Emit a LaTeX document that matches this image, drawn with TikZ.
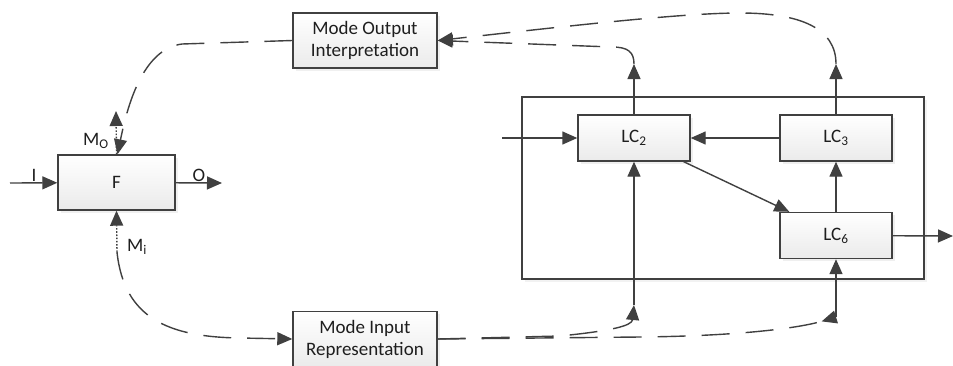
\documentclass[tikz,border=0pt]{standalone}
\usepackage{fontspec}
\setmainfont{Carlito}
\usetikzlibrary{arrows.meta,shadows}
\definecolor{cLine}{HTML}{404040}
\definecolor{cText}{HTML}{1E1E1E}

\begin{document}
\begin{tikzpicture}[
  x=1pt,y=-1pt,
  font=\fontsize{19}{22}\selectfont,
  blk/.style={draw=cLine,line width=1.4pt,top color=white,bottom color=gray!16,
              text=cText,align=center,minimum width=112pt,minimum height=46pt,
              drop shadow={opacity=0.12,shadow xshift=2.5pt,shadow yshift=-2.5pt}},
  frame/.style={draw=cLine,line width=1.4pt,fill=white,
              minimum width=402pt,minimum height=182pt,
              drop shadow={opacity=0.10,shadow xshift=2.5pt,shadow yshift=-2.5pt}},
  lbl/.style={text=cText,inner sep=1pt},
  ar/.style={draw=cLine,line width=1.4pt,-{Triangle[length=15pt,width=13pt]}},
  arrev/.style={draw=cLine,line width=1.4pt,-{Triangle[length=15pt,width=13pt,reversed]}},
  dsh/.style={dash pattern=on 28pt off 16pt},
  dotln/.style={dash pattern=on 1.6pt off 1.6pt},
  ]
  \useasboundingbox (0,0) rectangle (953,365);

  % function block and its mode boxes
  \node[blk,minimum width=117pt,minimum height=55pt] (f) at (116.5,182.5) {F};
  \node[blk,minimum width=144pt,minimum height=55pt] (moi) at (365,40.5)
    {Mode Output\\Interpretation};
  \node[blk,minimum width=144pt,minimum height=55pt] (mir) at (365,339)
    {Mode Input\\Representation};

  % learning components
  \node[frame] (sys) at (723,188) {};
  \node[blk] (lc2) at (634,138) {LC\textsubscript{2}};
  \node[blk] (lc3) at (836,138) {LC\textsubscript{3}};
  \node[blk] (lc6) at (836,235.5) {LC\textsubscript{6}};

  \coordinate (iin) at (10,183);
  \coordinate (oout) at (222,183);
  \coordinate (mo) at (116,111);
  \coordinate (mi) at (117,252);
  \coordinate (c2top) at (634,64);
  \coordinate (c3top) at (836,64);
  \coordinate (c2bot) at (634,305);
  \coordinate (c6bot) at (836,317);
  \coordinate (lcin) at (502,138);
  \coordinate (lcout) at (953,236);

  \node[lbl] (li) at (34,175) {I};
  \node[lbl] (lo) at (199,175) {O};
  \node[lbl] (lmo) at (96,141) {M\textsubscript{O}};
  \node[lbl] (lmi) at (137,247) {M\textsubscript{i}};

  \draw[ar] (iin) -- (f);
  \draw[ar] (f) -- (oout);
  \draw[ar,dotln] (f.north) -- (mo);
  \draw[ar,dotln] (mi) -- (f.south);
  \draw[ar,dsh] (moi.west) -- (182,44) .. controls (142,49) and (127,108)
    .. ([xshift=1pt]f.north);
  \draw[ar,dsh] (mi) .. controls (124,318) and (168,337) .. (240,338)
    -- (mir.west);

  % inside the frame
  \draw[ar] (lcin) -- (lc2);
  \draw[ar] (lc3) -- (lc2);
  \draw[ar] ([xshift=-7pt]lc2.south east) -- ([xshift=10pt]lc6.north west);
  \draw[ar] (lc6) -- (lc3);
  \draw[ar] (lc6) -- (lcout);

  % feedback to the output interpretation
  \draw[ar] (lc2) -- (c2top);
  \draw[ar] (lc3) -- (c3top);
  \draw[ar,dsh] (c2top) .. controls (634,52) and (628,47) .. (612,47)
    -- (moi.east);
  \draw[ar,dsh] (c3top) .. controls (836,28) and (800,13) .. (740,13)
    .. controls (680,13) and (560,27) .. (moi.east);

  % from the input representation
  \draw[ar,dsh] (mir.east) -- (560,336) .. controls (610,331) and (632,326)
    .. (c2bot);
  \draw[ar] (c2bot) -- (lc2);
  \draw[arrev,dsh] (mir.east) -- (640,337) .. controls (740,336) and (800,328)
    .. (c6bot);
  \draw[ar] (c6bot) -- (lc6);
\end{tikzpicture}
\end{document}
